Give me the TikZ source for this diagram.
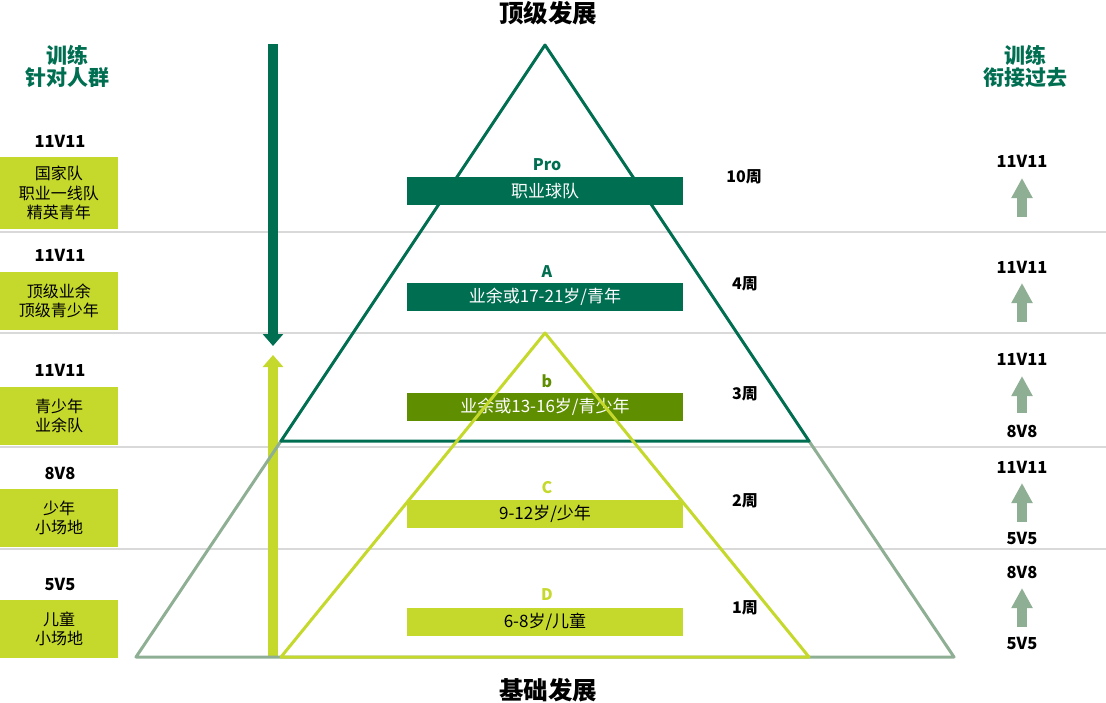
\documentclass[tikz,border=0pt]{standalone}
\usepackage{fontspec}
\setmainfont{Noto Sans CJK SC}
\usetikzlibrary{arrows.meta}
\definecolor{dkgreen}{HTML}{006E51}
\definecolor{olivebar}{HTML}{5F8E00}
\definecolor{lime}{HTML}{C5D82C}
\definecolor{sage}{HTML}{8FAF94}
\definecolor{rulegrey}{HTML}{D9D9D9}
\begin{document}
\begin{tikzpicture}[x=1pt,y=-1pt,
  lbox/.style={fill=lime, minimum width=118pt, inner sep=0pt, align=center, font=\fontsize{16}{19.5}\selectfont},
  bar/.style={minimum width=276pt, minimum height=28pt, inner sep=0pt, font=\fontsize{17}{18}\selectfont},
  vs/.style={font=\bfseries\fontsize{16.5}{18}\selectfont, inner sep=0pt},
  hdr/.style={font=\bfseries\fontsize{21}{22}\selectfont, text=dkgreen, align=center, inner sep=0pt},
  ttl/.style={font=\bfseries\fontsize{24.5}{26}\selectfont, inner sep=0pt},
  tier/.style={font=\bfseries\fontsize{16}{18}\selectfont, inner sep=0pt},
  week/.style={font=\bfseries\fontsize{16}{16}\selectfont, inner sep=0pt},
  rule/.style={rulegrey, line width=2.5pt},
  tri/.style={line width=3pt, line join=round},
  bigarrow/.style={line width=10pt, -{Triangle[width=20pt,length=12pt]}},
  smallarrow/.style={sage, line width=10pt, -{Triangle[width=20pt,length=20pt]}}
]
\useasboundingbox (0,0) rectangle (1106,702);

% grey separator rules
\foreach \yy/\nm in {232/ra,333/rb,447/rc,549/rd}{
  \coordinate (\nm l) at (0,\yy);
  \coordinate (\nm r) at (1106,\yy);
  \draw[rule] (\nm l) -- (\nm r);
}

% titles
\node[ttl] (top) at (548,13) {顶级发展};
\node[ttl] (bottom) at (548,690) {基础发展};

% column headers
\node[hdr] (hl) at (67,66) {训练\\针对人群};
\node[hdr] (hr) at (1025,66) {训练\\衔接过去};

% left column
\node[vs] (l1v) at (60,141) {11V11};
\node[lbox, minimum height=72pt] (l1) at (59,193) {国家队\\职业一线队\\精英青年};
\node[vs] (l2v) at (60,255) {11V11};
\node[lbox, minimum height=58pt] (l2) at (59,301) {顶级业余\\顶级青少年};
\node[vs] (l3v) at (60,370) {11V11};
\node[lbox, minimum height=58pt] (l3) at (59,416) {青少年\\业余队};
\node[vs] (l4v) at (60,473) {8V8};
\node[lbox, minimum height=58pt] (l4) at (59,518) {少年\\小场地};
\node[vs] (l5v) at (60,584) {5V5};
\node[lbox, minimum height=58pt] (l5) at (59,629) {儿童\\小场地};

% bars
\node[bar, fill=dkgreen, text=white] (bpro) at (545,191) {职业球队};
\node[bar, fill=dkgreen, text=white] (ba) at (545,297) {业余或17-21岁/青年};
\node[bar, fill=olivebar, text=white] (bb) at (545,407) {业余或13-16岁/青少年};
\node[bar, fill=lime, text=black] (bc) at (545,514) {9-12岁/少年};
\node[bar, fill=lime, text=black] (bd) at (545,622) {6-8岁/儿童};

% tier labels
\node[tier, text=dkgreen] (tpro) at (547,165) {Pro};
\node[tier, text=dkgreen] (ta) at (547,272) {A};
\node[tier, text=olivebar] (tb) at (547,381) {b};
\node[tier, text=lime] (tc) at (547,488) {C};
\node[tier, text=lime] (td) at (547,595) {D};

% weeks
\node[week] (w1) at (744,177) {10周};
\node[week] (w2) at (745,284) {4周};
\node[week] (w3) at (745,394) {3周};
\node[week] (w4) at (745,501) {2周};
\node[week] (w5) at (745,608) {1周};

% left big arrows
\coordinate (dtop) at (273,44);
\coordinate (dbot) at (273,346);
\draw[bigarrow, dkgreen] (dtop) -- (dbot);
\coordinate (ubot) at (273,657);
\coordinate (utop) at (273,355);
\draw[bigarrow, lime] (ubot) -- (utop);

% triangles
\coordinate (apex) at (545,45);
\coordinate (dl) at (281,441);
\coordinate (dr) at (809,441);
\coordinate (sl) at (136,657);
\coordinate (sr) at (954,657);
\coordinate (lapex) at (545,333);
\coordinate (ll) at (281,657);
\coordinate (lr) at (809,657);
\draw[tri, sage] (dl) -- (sl) -- (sr) -- (dr);
\draw[tri, dkgreen] (apex) -- (dl) -- (dr) -- cycle;
\draw[tri, lime] (lapex) -- (ll) -- (lr) -- cycle;

% right column
\node[vs] (r1t) at (1022,161) {11V11};
\coordinate (r1b) at (1022,217); \coordinate (r1a) at (1022,178);
\draw[smallarrow] (r1b) -- (r1a);

\node[vs] (r2t) at (1022,267) {11V11};
\coordinate (r2b) at (1022,322); \coordinate (r2a) at (1022,283);
\draw[smallarrow] (r2b) -- (r2a);

\node[vs] (r3t) at (1022,359) {11V11};
\coordinate (r3b) at (1022,413); \coordinate (r3a) at (1022,376);
\draw[smallarrow] (r3b) -- (r3a);
\node[vs] (r3f) at (1022,431) {8V8};

\node[vs] (r4t) at (1022,467) {11V11};
\coordinate (r4b) at (1022,522); \coordinate (r4a) at (1022,483);
\draw[smallarrow] (r4b) -- (r4a);
\node[vs] (r4f) at (1022,538) {5V5};

\node[vs] (r5t) at (1022,572) {8V8};
\coordinate (r5b) at (1022,627); \coordinate (r5a) at (1022,588);
\draw[smallarrow] (r5b) -- (r5a);
\node[vs] (r5f) at (1022,643) {5V5};
\end{tikzpicture}
\end{document}
